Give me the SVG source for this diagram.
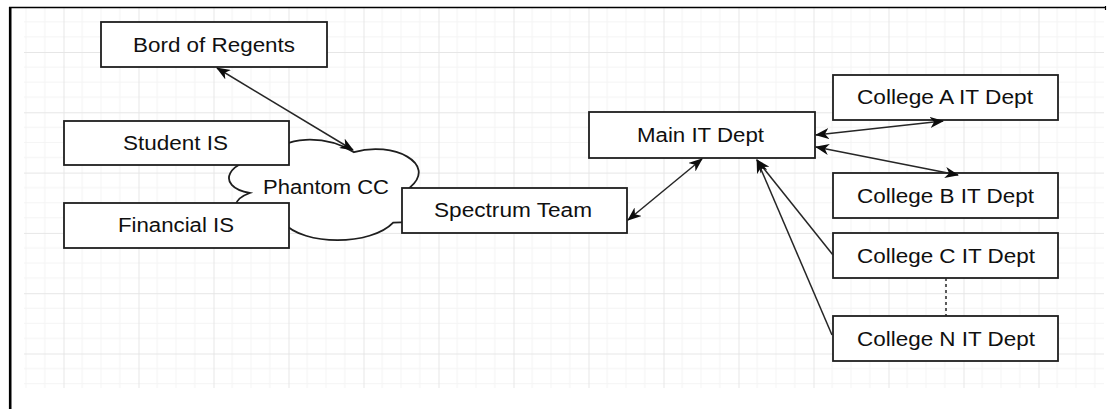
<svg xmlns="http://www.w3.org/2000/svg" width="1107" height="409" viewBox="0 0 1107 409">
  <style>
    .box { fill: #ffffff; stroke: #1e1e1e; stroke-width: 1.8; }
    .label { font-family: "Liberation Sans", Arial, sans-serif; font-size: 20px; fill: #101010; text-anchor: middle; }
    .conn { fill: none; stroke: #262626; stroke-width: 1.5; }
    .frame { stroke: #000000; fill: none; }
  </style>
  <defs>
    <pattern id="grid" patternUnits="userSpaceOnUse" x="63.5" y="52" width="75" height="60.3">
      <path d="M18.75 0V60.3M37.5 0V60.3M56.25 0V60.3M0 15.075H75M0 30.15H75M0 45.225H75" stroke="#f4f4f4" stroke-width="1" fill="none"/>
      <path d="M0.5 0V60.3M0 0.5H75" stroke="#e6e6e6" stroke-width="1" fill="none"/>
    </pattern>
    <marker id="arrow" viewBox="0 0 14 11" refX="13" refY="5.5" markerWidth="14" markerHeight="11" markerUnits="userSpaceOnUse" orient="auto-start-reverse">
      <path d="M0 0L14 5.5L0 11L4 5.5Z" fill="#0d0d0d"/>
    </marker>
  </defs>

  <!-- background grid -->
  <rect x="24" y="8" width="1080" height="380" fill="url(#grid)"/>

  <!-- outer frame edges -->
  <path class="frame" d="M9 7.5H1106" stroke-width="1.6"/>
  <path class="frame" d="M10.2 7V409" stroke-width="2.6"/>
  <path class="frame" d="M1105.5 6V10" stroke-width="1.2"/>

  <!-- cloud node -->
  <g id="phantom-cc">
    <path class="box" d="M270 157.8 C226.8 157.8 214 187 249.8 193 C214 206 254.3 234.4 283.4 222.6 C303.6 246 370.8 246 393.2 222.6 C438 222.6 438 199.2 410 187.4 C438 163.9 393.2 140.5 354 152.2 C326 134.7 281.2 134.7 270 157.8 Z"/>
    <text class="label" x="326" y="194.3" textLength="126" lengthAdjust="spacingAndGlyphs">Phantom CC</text>
  </g>

  <g id="bord-of-regents">
    <rect class="box" x="101" y="22" width="226" height="45"/>
    <text class="label" x="214" y="52.3" textLength="162" lengthAdjust="spacingAndGlyphs">Bord of Regents</text>
  </g>

  <g id="student-is">
    <rect class="box" x="64" y="121" width="225" height="44"/>
    <text class="label" x="175.5" y="149.5" textLength="105" lengthAdjust="spacingAndGlyphs">Student IS</text>
  </g>

  <g id="financial-is">
    <rect class="box" x="64" y="203" width="225" height="45"/>
    <text class="label" x="176" y="232.3" textLength="116" lengthAdjust="spacingAndGlyphs">Financial IS</text>
  </g>

  <g id="spectrum-team">
    <rect class="box" x="402" y="188" width="225" height="45"/>
    <text class="label" x="513" y="217.3" textLength="158" lengthAdjust="spacingAndGlyphs">Spectrum Team</text>
  </g>

  <g id="main-it-dept">
    <rect class="box" x="589" y="112" width="226" height="46"/>
    <text class="label" x="700.5" y="142.3" textLength="127" lengthAdjust="spacingAndGlyphs">Main IT Dept</text>
  </g>

  <g id="college-a">
    <rect class="box" x="833" y="75" width="225" height="45"/>
    <text class="label" x="945" y="104.3" textLength="176" lengthAdjust="spacingAndGlyphs">College A IT Dept</text>
  </g>

  <g id="college-b">
    <rect class="box" x="833" y="173" width="225" height="45"/>
    <text class="label" x="945.5" y="202.7" textLength="177" lengthAdjust="spacingAndGlyphs">College B IT Dept</text>
  </g>

  <g id="college-c">
    <rect class="box" x="833" y="233" width="225" height="45"/>
    <text class="label" x="946" y="262.7" textLength="178" lengthAdjust="spacingAndGlyphs">College C IT Dept</text>
  </g>

  <g id="college-n">
    <rect class="box" x="833" y="316" width="225" height="45"/>
    <text class="label" x="946" y="346" textLength="178" lengthAdjust="spacingAndGlyphs">College N IT Dept</text>
  </g>

  <!-- connectors -->
  <g id="connectors">
    <line class="conn" x1="217" y1="68" x2="353" y2="150" marker-start="url(#arrow)" marker-end="url(#arrow)"/>
    <line class="conn" x1="628" y1="220" x2="702" y2="159" marker-start="url(#arrow)" marker-end="url(#arrow)"/>
    <line class="conn" x1="816" y1="135" x2="943" y2="121" marker-start="url(#arrow)" marker-end="url(#arrow)"/>
    <line class="conn" x1="816" y1="147" x2="958" y2="175" marker-start="url(#arrow)" marker-end="url(#arrow)"/>
    <line class="conn" x1="833" y1="255" x2="757" y2="160" marker-end="url(#arrow)"/>
    <line class="conn" x1="832" y1="335" x2="757" y2="160" marker-end="url(#arrow)"/>
    <line class="conn" x1="946" y1="278" x2="946" y2="316" stroke-dasharray="3 3"/>
  </g>
</svg>
